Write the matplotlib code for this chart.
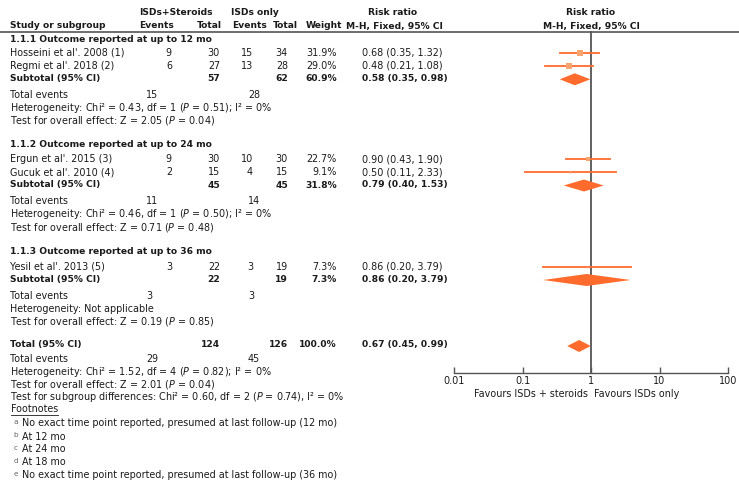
import numpy as np
import matplotlib.pyplot as plt

plt.rcParams['font.family'] = ['DejaVu Sans']
plt.rcParams['mathtext.fontset'] = 'dejavusans'
plt.rcParams['mathtext.default'] = 'regular'

W, H = 739, 493
FS = 6.9
FS_B = 6.6
TXT = "#1a1a1a"
ORANGE = "#FF6B2C"
SQUARE = "#F6A56E"
GREY = "#555555"

# ----------------------------------------------------------------------
# Data
# ----------------------------------------------------------------------
studies = ["Hosseini et al'. 2008 (1)", "Regmi et al'. 2018 (2)",
           "Ergun et al'. 2015 (3)", "Gucuk et al'. 2010 (4)",
           "Yesil et al'. 2013 (5)"]
study_group = [0, 0, 1, 1, 2]
exp_events = [9, 6, 9, 2, 3]
exp_total = [30, 27, 30, 15, 22]
ctl_events = [15, 13, 10, 4, 3]
ctl_total = [34, 28, 30, 15, 19]
weights = [31.9, 29.0, 22.7, 9.1, 7.3]
rr = [0.68, 0.48, 0.90, 0.50, 0.86]
rr_lo = [0.35, 0.21, 0.43, 0.11, 0.20]
rr_hi = [1.32, 1.08, 1.90, 2.33, 3.79]

groups = ["1.1.1 Outcome reported at up to 12 mo",
          "1.1.2 Outcome reported at up to 24 mo",
          "1.1.3 Outcome reported at up to 36 mo"]
sub_exp_total = [57, 45, 22]
sub_ctl_total = [62, 45, 19]
sub_exp_events = [15, 11, 3]
sub_ctl_events = [28, 14, 3]
sub_weight = [60.9, 31.8, 7.3]
sub_rr = [0.58, 0.79, 0.86]
sub_lo = [0.35, 0.40, 0.20]
sub_hi = [0.98, 1.53, 3.79]
sub_het = [(0.43, 1, 0.51, 0), (0.46, 1, 0.50, 0), None]
sub_z = [(2.05, 0.04), (0.71, 0.48), (0.19, 0.85)]

tot_exp_total, tot_ctl_total = 124, 126
tot_exp_events, tot_ctl_events = 29, 45
tot_rr, tot_lo, tot_hi = 0.67, 0.45, 0.99
tot_het = (1.52, 4, 0.82, 0)
tot_z = (2.01, 0.04)
subgroup_diff = (0.60, 2, 0.74, 0)

footnote_keys = ["a", "b", "c", "d", "e"]
footnotes = ["No exact time point reported, presumed at last follow-up (12 mo)",
             "At 12 mo", "At 24 mo", "At 18 mo",
             "No exact time point reported, presumed at last follow-up (36 mo)"]

axis_ticks = [0.01, 0.1, 1, 10, 100]
axis_labels = ["0.01", "0.1", "1", "10", "100"]

# ----------------------------------------------------------------------
# Layout (pixel rows / columns)
# ----------------------------------------------------------------------
Y_GROUP = [39.5, 144.5, 251]
Y_STUDY = [52.5, 66, 159, 172.3, 266.5]
Y_SUB = [78.8, 185, 279.5]
Y_EVT = [94.8, 201.3, 296]
Y_HET = [107.8, 214.3, 308.8]
Y_Z = [120.8, 227.3, 321.8]
Y_TOT, Y_TOT_EVT, Y_TOT_HET, Y_TOT_Z, Y_DIFF = 344.5, 359, 372, 384.5, 397.3
Y_FOOT = 409.5
Y_NOTES = [423.5, 436.8, 449.5, 462.3, 475.3]
Y_AXIS = 373

X_LEFT = 10.5
X_EE, X_ET, X_CE, X_CT, X_W, X_RR = 172, 220, 253, 288, 337, 362
X_EVT1, X_EVT2 = 146, 248


def het_text(h):
    if h is None:
        return "Heterogeneity: Not applicable"
    chi, df, p, i2 = h
    return (f"Heterogeneity: Chi² = {chi:.2f}, df = {df} "
            f"($\\mathit{{P}}$ = {p:.2f}); I² = {i2}%")


def z_text(z):
    return f"Test for overall effect: Z = {z[0]:.2f} ($\\mathit{{P}}$ = {z[1]:.2f})"


def ci_text(m, lo, hi):
    return f"{m:.2f} ({lo:.2f}, {hi:.2f})"


fig = plt.figure(figsize=(W / 100, H / 100), dpi=100)
ax = fig.add_axes([0, 0, 1, 1])
ax.set_xlim(0, W)
ax.set_ylim(H, 0)
ax.axis("off")


def t(x, y, s, ha="left", bold=False, **kw):
    return ax.text(x, y, s, ha=ha, va="center", fontsize=FS_B if bold else FS,
                   color=TXT, fontweight="bold" if bold else "normal", **kw)


# header
t(176, 12.5, "ISDs+Steroids", ha="center", bold=True)
t(255, 12.5, "ISDs only", ha="center", bold=True)
t(393, 12.5, "Risk ratio", ha="center", bold=True)
t(591, 12.5, "Risk ratio", ha="center", bold=True)
t(X_LEFT, 26, "Study or subgroup", bold=True)
t(174, 26, "Events", ha="right", bold=True)
t(222, 26, "Total", ha="right", bold=True)
t(267, 26, "Events", ha="right", bold=True)
t(298, 26, "Total", ha="right", bold=True)
t(342, 26, "Weight", ha="right", bold=True)
t(394.5, 26, "M-H, Fixed, 95% CI", ha="center", bold=True)
t(591, 26, "M-H, Fixed, 95% CI", ha="center", bold=True)
ax.plot([0, 739], [32, 32], color=GREY, lw=1.2)

# groups
for g in range(len(groups)):
    t(X_LEFT, Y_GROUP[g], groups[g], bold=True)
    for i in [k for k in range(len(studies)) if study_group[k] == g]:
        y = Y_STUDY[i]
        t(X_LEFT, y, studies[i])
        t(X_EE, y, str(exp_events[i]), ha="right")
        t(X_ET, y, str(exp_total[i]), ha="right")
        t(X_CE, y, str(ctl_events[i]), ha="right")
        t(X_CT, y, str(ctl_total[i]), ha="right")
        t(X_W, y, f"{weights[i]:.1f}%", ha="right")
        t(X_RR, y, ci_text(rr[i], rr_lo[i], rr_hi[i]))
    y = Y_SUB[g]
    t(X_LEFT, y, "Subtotal (95% CI)", bold=True)
    t(X_ET, y, str(sub_exp_total[g]), ha="right", bold=True)
    t(X_CT, y, str(sub_ctl_total[g]), ha="right", bold=True)
    t(X_W, y, f"{sub_weight[g]:.1f}%", ha="right", bold=True)
    t(X_RR, y, ci_text(sub_rr[g], sub_lo[g], sub_hi[g]), bold=True)
    t(X_LEFT, Y_EVT[g], "Total events")
    t(X_EVT1, Y_EVT[g], str(sub_exp_events[g]))
    t(X_EVT2, Y_EVT[g], str(sub_ctl_events[g]))
    t(X_LEFT, Y_HET[g], het_text(sub_het[g]))
    t(X_LEFT, Y_Z[g], z_text(sub_z[g]))

# overall
t(X_LEFT, Y_TOT, "Total (95% CI)", bold=True)
t(X_ET, Y_TOT, str(tot_exp_total), ha="right", bold=True)
t(X_CT, Y_TOT, str(tot_ctl_total), ha="right", bold=True)
t(X_W, Y_TOT, "100.0%", ha="right", bold=True)
t(X_RR, Y_TOT, ci_text(tot_rr, tot_lo, tot_hi), bold=True)
t(X_LEFT, Y_TOT_EVT, "Total events")
t(X_EVT1, Y_TOT_EVT, str(tot_exp_events))
t(X_EVT2, Y_TOT_EVT, str(tot_ctl_events))
t(X_LEFT, Y_TOT_HET, het_text(tot_het))
t(X_LEFT, Y_TOT_Z, z_text(tot_z))
chi, df, p, i2 = subgroup_diff
t(X_LEFT, Y_DIFF, f"Test for subgroup differences: Chi² = {chi:.2f}, df = {df} "
                  f"($\\mathit{{P}}$ = {p:.2f}), I² = {i2}%")

# footnotes
fn = t(X_LEFT, Y_FOOT, "Footnotes")
for k, note, y in zip(footnote_keys, footnotes, Y_NOTES):
    ax.text(X_LEFT + 3, y - 1.5, k, ha="left", va="center", fontsize=FS - 1.6, color="#666666")
    t(X_LEFT + 12, y, note)

fig.canvas.draw()
bb = fn.get_window_extent().transformed(ax.transData.inverted())
ax.plot([bb.x0, bb.x1], [Y_FOOT + 5.5, Y_FOOT + 5.5], color=TXT, lw=0.6)

# ----------------------------------------------------------------------
# Forest plot
# ----------------------------------------------------------------------
x0, x1 = 454, 728
fx = fig.add_axes([x0 / W, 0, (x1 - x0) / W, 1])
fx.set_xscale("log")
fx.set_xlim(0.01, 100)
fx.set_ylim(H, 0)
fx.patch.set_visible(False)
for s in ["top", "left", "right"]:
    fx.spines[s].set_visible(False)
fx.spines["bottom"].set_position(("data", Y_AXIS))
fx.spines["bottom"].set_color(GREY)
fx.spines["bottom"].set_linewidth(1.0)
fx.set_yticks([])
fx.set_xticks(axis_ticks)
fx.set_xticklabels(axis_labels)
fx.minorticks_off()
fx.tick_params(axis="x", direction="in", length=4, width=1.0, color=GREY,
               labelsize=FS, labelcolor=TXT, pad=2)

fx.plot([1, 1], [32, Y_AXIS], color=GREY, lw=1.3, zorder=1)

for i in range(len(studies)):
    y = Y_STUDY[i]
    fx.plot([rr_lo[i], rr_hi[i]], [y, y], color=ORANGE, lw=1.3, zorder=2)
    side = 0.21 * weights[i] * 0.72
    fx.plot([rr[i]], [y], marker="s", ms=side, color=SQUARE, mec=SQUARE, mew=0, zorder=3)


def diamond(m, lo, hi, y, h=6):
    fx.fill([lo, m, hi, m], [y, y - h, y, y + h], color=ORANGE, lw=0, zorder=3)


for g in range(len(groups)):
    diamond(sub_rr[g], sub_lo[g], sub_hi[g], Y_SUB[g] + 0.5)
diamond(tot_rr, tot_lo, tot_hi, Y_TOT + 1.5)

fx.text(1, Y_AXIS + 21, "Favours ISDs + steroids ", ha="right", va="center", fontsize=FS, color=TXT)
fx.text(1, Y_AXIS + 21, " Favours ISDs only", ha="left", va="center", fontsize=FS, color=TXT)

fig.savefig("out.png", dpi=100)
